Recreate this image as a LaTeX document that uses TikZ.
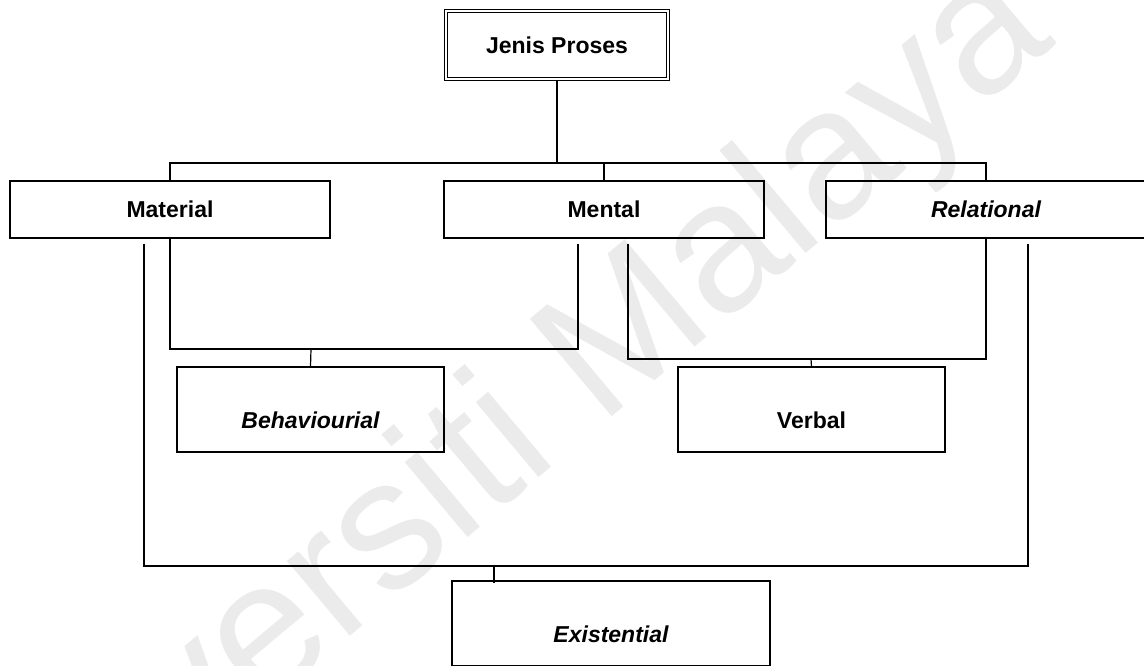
\documentclass[tikz,border=0pt]{standalone}
\usepackage{fontspec}
\setmainfont{Liberation Sans}
\usepackage{tikz}

\begin{document}
\begin{tikzpicture}[x=1pt,y=-1pt,line width=1.2pt,
    proc/.style={draw,rectangle,inner sep=0pt,minimum width=320pt,minimum height=57pt,
      font=\fontsize{23}{27}\selectfont\bfseries},
    sub/.style={draw,rectangle,inner sep=0pt,minimum width=267pt,minimum height=85pt},
    lbl/.style={inner sep=0pt,yshift=-11pt,font=\fontsize{23}{27}\selectfont\bfseries}]
  \useasboundingbox (0,0) rectangle (1144,665);
  % watermark
  \node[rotate=40,text=black!8,font=\fontsize{185}{200}\selectfont] (wm) at (487,459) {Universiti Malaya};

  \node[proc,double,double distance=2pt,minimum width=222pt,minimum height=68pt] (jenis) at (557,45) {Jenis Proses};
  \node[proc] (mat) at (170,209.5) {Material};
  \node[proc] (men) at (604,209.5) {Mental};
  \node[proc] (rel) at (986,209.5) {\itshape Relational};
  \node[sub,label={[lbl]center:\itshape Behaviourial}] (beh) at (310.5,409.5) {};
  \node[sub,label={[lbl]center:Verbal}] (verb) at (811.5,409.5) {};
  \node[sub,minimum width=318pt,label={[lbl]center:\itshape Existential}] (exi) at (611,623.5) {};

  \coordinate (bus) at (557,163);
  \coordinate (behj) at (311,349);
  \coordinate (verj) at (811,359);
  \coordinate (exij) at (494,566);

  \draw (jenis.south) -- (bus);
  \draw (mat.north) |- (bus) -| (rel.north);
  \draw (men.north) -- (men.north |- bus);
  \draw (mat.south) |- (behj) -| ([shift={(-26,5)}]men.south);
  \draw (behj) -- (beh.north);
  \draw ([shift={(24,5)}]men.south) |- (verj) -| (rel.south);
  \draw (verj) -- (verb.north);
  \draw ([shift={(-26,5)}]mat.south) |- (exij) -| ([shift={(42,5)}]rel.south);
  \draw (exij) -- (exij |- exi.north) -- ++(0,3);
\end{tikzpicture}
\end{document}
